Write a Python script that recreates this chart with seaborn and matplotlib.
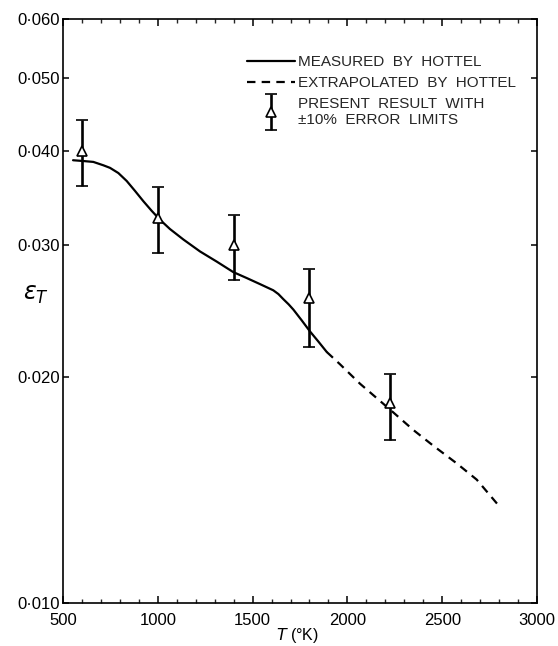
import matplotlib
matplotlib.use("Agg")
import matplotlib.pyplot as plt
import numpy as np
import pandas as pd
import seaborn as sns
from matplotlib.ticker import FixedLocator, FixedFormatter, MultipleLocator, NullLocator
from matplotlib.container import ErrorbarContainer
from matplotlib.legend_handler import HandlerErrorbar

# Total emissivity curve, measured range (T in K)
measured_T = [553, 610, 660, 713, 748, 792, 836, 880, 924, 968, 1012, 1064, 1135,
              1223, 1311, 1398, 1469, 1539, 1609, 1636, 1662, 1690, 1715, 1759,
              1803, 1847, 1891]
measured_eps = [0.0389, 0.0388, 0.0387, 0.0383, 0.0380, 0.0374, 0.0365, 0.0354,
                0.0343, 0.0333, 0.0324, 0.0315, 0.0305, 0.0294, 0.0285, 0.0276,
                0.0271, 0.0266, 0.0261, 0.0258, 0.0254, 0.0250, 0.0246, 0.0238,
                0.0230, 0.0223, 0.0216]

# Extrapolated continuation of the curve
extrap_T = [1891, 1961, 2066, 2225, 2348, 2453, 2576, 2682, 2796]
extrap_eps = [0.0216, 0.0208, 0.0196, 0.0181, 0.0170, 0.0162, 0.01535, 0.0146, 0.0135]

# Present results with their error limits
present_T = [600, 1000, 1400, 1800, 2225]
present_eps = [0.0400, 0.0326, 0.0300, 0.0255, 0.01845]
present_lo = [0.0359, 0.0293, 0.0269, 0.0219, 0.0165]
present_hi = [0.0440, 0.0358, 0.0329, 0.0279, 0.0202]

# Axis ticks
x_ticks = [500, 1000, 1500, 2000, 2500, 3000]
y_ticks = [0.010, 0.020, 0.030, 0.040, 0.050, 0.060]
y_tick_labels = ["0\u00b7010", "0\u00b7020", "0\u00b7030", "0\u00b7040", "0\u00b7050", "0\u00b7060"]

legend_labels = ["MEASURED  BY  HOTTEL", "EXTRAPOLATED  BY  HOTTEL",
                 "PRESENT  RESULT  WITH\n\u00b110%  ERROR  LIMITS"]

sns.set_theme(style="ticks")
plt.rcParams["font.family"] = ["Liberation Sans", "DejaVu Sans"]
plt.rcParams["mathtext.fontset"] = "dejavusans"

fig = plt.figure(figsize=(5.58, 6.46), dpi=100)
ax = fig.add_axes([0.1129, 0.0666, 0.8495, 0.9040])

meas = pd.DataFrame({"T": measured_T, "eps": measured_eps})
extr = pd.DataFrame({"T": extrap_T, "eps": extrap_eps})

sns.lineplot(data=meas, x="T", y="eps", ax=ax, color="black", lw=1.6,
             estimator=None, label=legend_labels[0], zorder=2)
sns.lineplot(data=extr, x="T", y="eps", ax=ax, color="black", lw=1.6,
             estimator=None, linestyle=(0, (3.8, 2.8)), label=legend_labels[1], zorder=2)

eps_arr = np.array(present_eps)
yerr = np.vstack([eps_arr - np.array(present_lo), np.array(present_hi) - eps_arr])
eb = ax.errorbar(present_T, present_eps, yerr=yerr, fmt="^", ms=7, mfc="white",
                 mec="black", mew=1.2, ecolor="black", elinewidth=1.9,
                 capsize=4.2, capthick=1.9, zorder=3, label=legend_labels[2])

ax.set_yscale("log")
ax.set_xlim(500, 3000)
ax.set_ylim(0.010, 0.060)

ax.xaxis.set_major_locator(FixedLocator(x_ticks))
ax.xaxis.set_minor_locator(MultipleLocator(100))
ax.set_xticklabels([str(t) for t in x_ticks])
ax.yaxis.set_major_locator(FixedLocator(y_ticks))
ax.yaxis.set_major_formatter(FixedFormatter(y_tick_labels))
ax.yaxis.set_minor_locator(NullLocator())

ax.tick_params(axis="x", which="major", direction="in", length=5, width=1.1,
               top=True, labelsize=12, pad=7.5, colors="black")
ax.tick_params(axis="x", which="minor", direction="in", length=3, width=1.0, top=True)
ax.tick_params(axis="y", which="major", direction="in", length=4, width=1.1,
               right=True, labelsize=12, pad=2.4, colors="black")

for sp in ax.spines.values():
    sp.set_linewidth(1.2)
    sp.set_color("black")
    sp.set_visible(True)

ax.set_xlabel("$T$ (\u00b0K)", fontsize=11.5, color="black")
ax.xaxis.set_label_coords(0.494, -0.056)
ax.xaxis.label.set_va("center")
ax.set_ylabel(r"$\epsilon_T$", fontsize=17, rotation=0, color="black",
              ha="center", va="center")
ax.yaxis.set_label_coords(-0.057, 0.527)

handles, labels = ax.get_legend_handles_labels()
leg = ax.legend(handles, labels, loc="upper left", bbox_to_anchor=(0.388, 0.938),
                frameon=False, fontsize=11, handlelength=3.15, handletextpad=0.2,
                labelspacing=0.45, borderpad=0, borderaxespad=0, numpoints=1,
                handler_map={ErrorbarContainer: HandlerErrorbar(yerr_size=1.2)})
for txt in leg.get_texts():
    txt.set_linespacing(1.15)

fig.savefig("out.png", dpi=100, facecolor="white")
